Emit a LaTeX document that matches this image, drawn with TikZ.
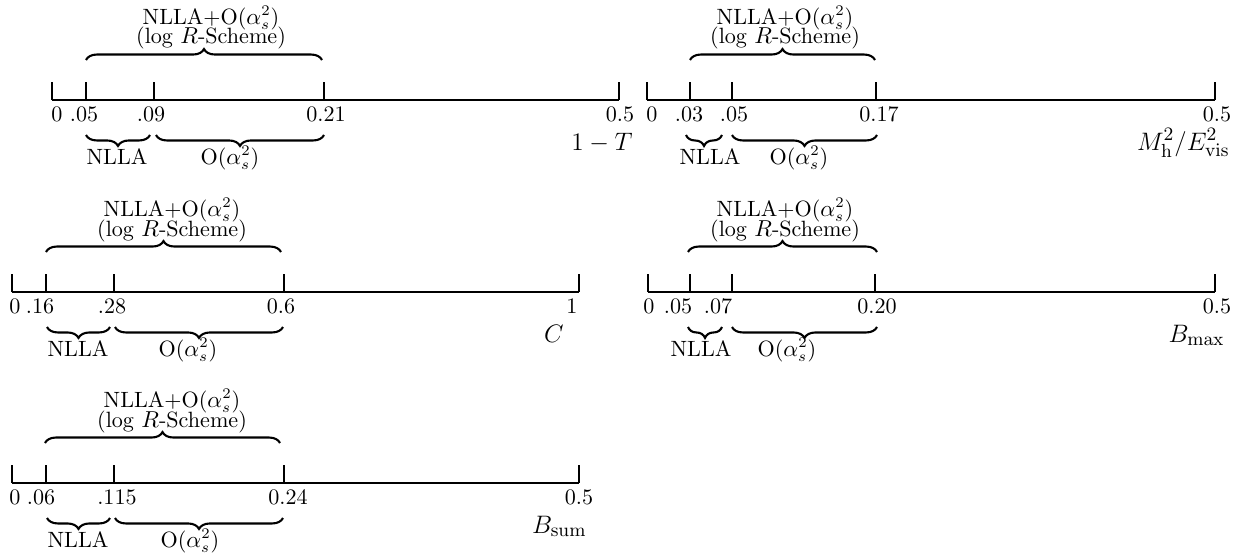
\documentclass[tikz,border=0pt]{standalone}
\usetikzlibrary{decorations.pathreplacing}
\begin{document}
\begin{tikzpicture}[x=0.475pt,y=0.475pt,
  every node/.style={font=\fontsize{10.5pt}{12pt}\selectfont},
  axisline/.style={line width=1pt},
  tickline/.style={line width=0.8pt},
  endtick/.style={line width=1.4pt},
  bracedeco/.style={decorate,decoration={brace,amplitude=5.2pt},line width=1pt},
  ticklabel/.style={anchor=base,inner sep=0pt},
  toplabel/.style={anchor=base,inner sep=0pt},
  varlabel/.style={anchor=base east,inner sep=0pt,font=\fontsize{12.4pt}{14pt}\selectfont}]
\useasboundingbox (0,0) rectangle (1238,-554);

% ---------- Panel 1: 1-T ----------
\begin{scope}[shift={(0,-100)}]
\coordinate (aT0) at (52,0); \coordinate (aT1) at (86,0); \coordinate (aT2) at (154,0);
\coordinate (aT3) at (324,0); \coordinate (aT4) at (619,0);
\draw[axisline] (aT0) -- (aT4);
\foreach \n in {0,...,4} \draw[tickline] (aT\n) -- ++(0,18);
\node[ticklabel] (aL0) at (57,-21) {0};
\node[ticklabel] (aL1) at (84,-21) {.05};
\node[ticklabel] (aL2) at (151,-21) {.09};
\node[ticklabel] (aL3) at (326,-21) {0.21};
\node[ticklabel] (aL4) at (620,-21) {0.5};
\coordinate (aBs) at (86,40); \coordinate (aBe) at (322,40);
\draw[bracedeco] (aBs) -- (aBe);
\node[toplabel] (aU1) at (211,76) {NLLA+O($\alpha_s^2$)};
\node[toplabel] (aU2) at (211,56) {(log $R$-Scheme)};
\coordinate (aNs) at (86,-35); \coordinate (aNe) at (150,-35);
\coordinate (aOs) at (156,-35); \coordinate (aOe) at (324,-35);
\draw[bracedeco] (aNe) -- (aNs);
\draw[bracedeco] (aOe) -- (aOs);
\node[ticklabel] (aN) at (117,-64) {NLLA};
\node[ticklabel] (aO) at (230,-64) {O($\alpha_s^2$)};
\node[varlabel] (aV) at (633,-50) {$1-T$};
\end{scope}

% ---------- Panel 2: Mh^2/Evis^2 ----------
\begin{scope}[shift={(0,-100)}]
\coordinate (bT0) at (647,0); \coordinate (bT1) at (690,0); \coordinate (bT2) at (732,0);
\coordinate (bT3) at (876,0); \coordinate (bT4) at (1215,0);
\draw[axisline] (bT0) -- (bT4);
\foreach \n in {1,2,3} \draw[tickline] (bT\n) -- ++(0,18);
\draw[endtick] (bT0) -- ++(0,18);
\draw[endtick] (bT4) -- ++(0,18);
\node[ticklabel] (bL0) at (652,-21) {0};
\node[ticklabel] (bL1) at (689,-21) {.03};
\node[ticklabel] (bL2) at (734,-21) {.05};
\node[ticklabel] (bL3) at (879,-21) {0.17};
\node[ticklabel] (bL4) at (1217,-21) {0.5};
\coordinate (bBs) at (690,40); \coordinate (bBe) at (875,40);
\draw[bracedeco] (bBs) -- (bBe);
\node[toplabel] (bU1) at (785,76) {NLLA+O($\alpha_s^2$)};
\node[toplabel] (bU2) at (785,56) {(log $R$-Scheme)};
\coordinate (bNs) at (686,-35); \coordinate (bNe) at (722,-35);
\coordinate (bOs) at (732,-35); \coordinate (bOe) at (877,-35);
\draw[bracedeco] (bNe) -- (bNs);
\draw[bracedeco] (bOe) -- (bOs);
\node[ticklabel] (bN) at (710,-64) {NLLA};
\node[ticklabel] (bO) at (799,-64) {O($\alpha_s^2$)};
\node[varlabel] (bV) at (1230,-50) {$M_{\mathrm{h}}^2/E_{\mathrm{vis}}^2$};
\end{scope}

% ---------- Panel 3: C ----------
\begin{scope}[shift={(0,-292)}]
\coordinate (cT0) at (12,0); \coordinate (cT1) at (46,0); \coordinate (cT2) at (114,0);
\coordinate (cT3) at (284,0); \coordinate (cT4) at (579,0);
\draw[axisline] (cT0) -- (cT4);
\foreach \n in {0,...,4} \draw[tickline] (cT\n) -- ++(0,18);
\node[ticklabel] (cL0) at (15,-21) {0};
\node[ticklabel] (cL1) at (40,-21) {.16};
\node[ticklabel] (cL2) at (112,-21) {.28};
\node[ticklabel] (cL3) at (281,-21) {0.6};
\node[ticklabel] (cL4) at (572,-21) {1};
\coordinate (cBs) at (46,40); \coordinate (cBe) at (281,40);
\draw[bracedeco] (cBs) -- (cBe);
\node[toplabel] (cU1) at (172,76) {NLLA+O($\alpha_s^2$)};
\node[toplabel] (cU2) at (172,56) {(log $R$-Scheme)};
\coordinate (cNs) at (47,-35); \coordinate (cNe) at (110,-35);
\coordinate (cOs) at (115,-35); \coordinate (cOe) at (283,-35);
\draw[bracedeco] (cNe) -- (cNs);
\draw[bracedeco] (cOe) -- (cOs);
\node[ticklabel] (cN) at (78,-64) {NLLA};
\node[ticklabel] (cO) at (188,-64) {O($\alpha_s^2$)};
\node[varlabel] (cV) at (564,-50) {$C$};
\end{scope}

% ---------- Panel 4: Bmax ----------
\begin{scope}[shift={(0,-292)}]
\coordinate (dT0) at (648,0); \coordinate (dT1) at (690,0); \coordinate (dT2) at (732,0);
\coordinate (dT3) at (875,0); \coordinate (dT4) at (1215,0);
\draw[axisline] (dT0) -- (dT4);
\foreach \n in {1,2,3} \draw[tickline] (dT\n) -- ++(0,18);
\draw[endtick] (dT0) -- ++(0,18);
\draw[endtick] (dT4) -- ++(0,18);
\node[ticklabel] (dL0) at (649,-21) {0};
\node[ticklabel] (dL1) at (678,-21) {.05};
\node[ticklabel] (dL2) at (718,-21) {.07};
\node[ticklabel] (dL3) at (877,-21) {0.20};
\node[ticklabel] (dL4) at (1217,-21) {0.5};
\coordinate (dBs) at (688,40); \coordinate (dBe) at (877,40);
\draw[bracedeco] (dBs) -- (dBe);
\node[toplabel] (dU1) at (785,76) {NLLA+O($\alpha_s^2$)};
\node[toplabel] (dU2) at (785,56) {(log $R$-Scheme)};
\coordinate (dNs) at (688,-35); \coordinate (dNe) at (722,-35);
\coordinate (dOs) at (732,-35); \coordinate (dOe) at (877,-35);
\draw[bracedeco] (dNe) -- (dNs);
\draw[bracedeco] (dOe) -- (dOs);
\node[ticklabel] (dN) at (701,-64) {NLLA};
\node[ticklabel] (dO) at (787,-64) {O($\alpha_s^2$)};
\node[varlabel] (dV) at (1225,-50) {$B_{\max}$};
\end{scope}

% ---------- Panel 5: Bsum ----------
\begin{scope}[shift={(0,-483)}]
\coordinate (eT0) at (12,0); \coordinate (eT1) at (46,0); \coordinate (eT2) at (114,0);
\coordinate (eT3) at (284,0); \coordinate (eT4) at (579,0);
\draw[axisline] (eT0) -- (eT4);
\foreach \n in {0,...,4} \draw[tickline] (eT\n) -- ++(0,18);
\node[ticklabel] (eL0) at (15,-21) {0};
\node[ticklabel] (eL1) at (41,-21) {.06};
\node[ticklabel] (eL2) at (117,-21) {.115};
\node[ticklabel] (eL3) at (288,-21) {0.24};
\node[ticklabel] (eL4) at (579,-21) {0.5};
\coordinate (eBs) at (45,40); \coordinate (eBe) at (280,40);
\draw[bracedeco] (eBs) -- (eBe);
\node[toplabel] (eU1) at (172,76) {NLLA+O($\alpha_s^2$)};
\node[toplabel] (eU2) at (172,56) {(log $R$-Scheme)};
\coordinate (eNs) at (47,-35); \coordinate (eNe) at (110,-35);
\coordinate (eOs) at (115,-35); \coordinate (eOe) at (283,-35);
\draw[bracedeco] (eNe) -- (eNs);
\draw[bracedeco] (eOe) -- (eOs);
\node[ticklabel] (eN) at (78,-64) {NLLA};
\node[ticklabel] (eO) at (190,-64) {O($\alpha_s^2$)};
\node[varlabel] (eV) at (587,-50) {$B_{\mathrm{sum}}$};
\end{scope}
\end{tikzpicture}
\end{document}
